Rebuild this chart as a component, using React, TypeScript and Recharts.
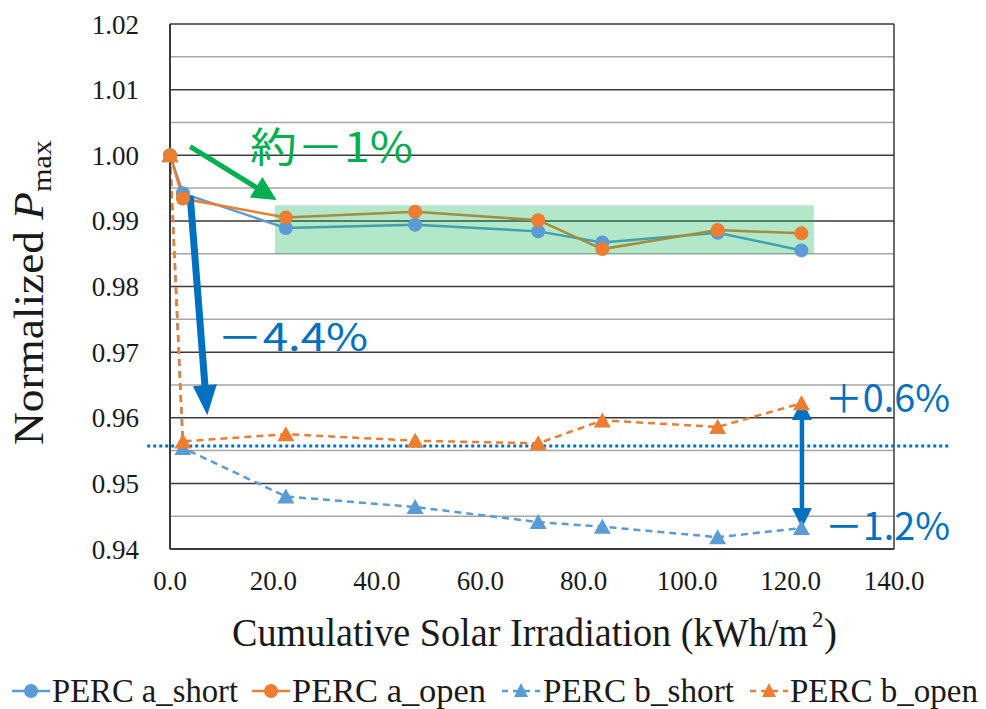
import React from 'react';
import {
  LineChart,
  Line,
  XAxis,
  YAxis,
  CartesianGrid,
  ReferenceLine,
  ReferenceArea,
} from 'recharts';

// cumulative irradiation (kWh/m2) at each measurement
const irradiation = [0, 2.5, 22.4, 47.4, 71.2, 83.6, 105.9, 122.1];

// normalized Pmax per module
const percAShort = [1.0, 0.9942, 0.9889, 0.9894, 0.9884, 0.9867, 0.9882, 0.9855];
const percAOpen = [1.0, 0.9934, 0.9905, 0.9914, 0.9901, 0.9857, 0.9886, 0.9881];
const percBShort = [1.0, 0.9554, 0.948, 0.9464, 0.9441, 0.9434, 0.9418, 0.9432];
const percBOpen = [1.0, 0.9564, 0.9575, 0.9565, 0.9561, 0.9596, 0.9586, 0.9622];

const seriesNames = ['PERC a_short', 'PERC a_open', 'PERC b_short', 'PERC b_open'];

const xTicks = [0, 20, 40, 60, 80, 100, 120, 140];
const yTicks = [0.94, 0.95, 0.96, 0.97, 0.98, 0.99, 1.0, 1.01, 1.02];
const yMinorTicks = [0.945, 0.955, 0.965, 0.975, 0.985, 0.995, 1.005, 1.015];

// annotation anchors, in data units
const stableBand = { x1: 20.3, x2: 124.5, y1: 0.985, y2: 0.9924 };
const bStartLevel = 0.9557;
const bStartSpan = [-4.4, 150.8];
const greenArrow = [{ x: 3.9, y: 1.0013 }, { x: 20.6, y: 0.9932 }];
const drop44Arrow = [{ x: 3.9, y: 0.9938 }, { x: 7.2, y: 0.9604 }];
const spreadArrow = [{ x: 122.2, y: 0.9627 }, { x: 122.2, y: 0.9432 }];

const data = irradiation.map((x, i) => ({
  x,
  aShort: percAShort[i],
  aOpen: percAOpen[i],
  bShort: percBShort[i],
  bOpen: percBOpen[i],
}));

const BLUE = '#5b9bd5';
const ORANGE = '#ed7d31';
const DARK_BLUE = '#0070c0';
const GREEN = '#00b050';
const SERIF = "'Times New Roman', 'Liberation Serif', Times, serif";
const SANS = "'Noto Sans CJK JP', 'Noto Sans', sans-serif";

function Triangle(props: any) {
  const { cx, cy, fill } = props;
  if (cx == null || cy == null) return null;
  return (
    <polygon
      key={`t-${cx}-${cy}`}
      points={`${cx},${cy - 8} ${cx + 8.5},${cy + 7} ${cx - 8.5},${cy + 7}`}
      fill={fill}
    />
  );
}

function arrowShape(color: string, width: number, headL: number, headW: number, both: boolean) {
  return (p: any) => {
    const x1 = Number(p.x1), y1 = Number(p.y1), x2 = Number(p.x2), y2 = Number(p.y2);
    const len = Math.hypot(x2 - x1, y2 - y1) || 1;
    const ux = (x2 - x1) / len, uy = (y2 - y1) / len;
    const nx = -uy, ny = ux;
    const head = (tx: number, ty: number, dx: number, dy: number) => {
      const bx = tx - dx * headL, by = ty - dy * headL;
      return `${tx},${ty} ${bx + nx * headW / 2},${by + ny * headW / 2} ${bx - nx * headW / 2},${by - ny * headW / 2}`;
    };
    const sx = both ? x1 + ux * headL * 0.9 : x1;
    const sy = both ? y1 + uy * headL * 0.9 : y1;
    return (
      <g>
        <line x1={sx} y1={sy} x2={x2 - ux * headL * 0.9} y2={y2 - uy * headL * 0.9} stroke={color} strokeWidth={width} />
        <polygon points={head(x2, y2, ux, uy)} fill={color} />
        {both && <polygon points={head(x1, y1, -ux, -uy)} fill={color} />}
      </g>
    );
  };
}

function LegendMarker({ x, color, dashed, circle }: { x: number; color: string; dashed: boolean; circle: boolean }) {
  const cy = 691;
  return (
    <g>
      <line x1={x} y1={cy} x2={x + 38} y2={cy} stroke={color} strokeWidth={2.5} strokeDasharray={dashed ? '6 5' : undefined} />
      {circle ? (
        <circle cx={x + 19} cy={cy} r={7} fill={color} />
      ) : (
        <polygon points={`${x + 19},${cy - 8} ${x + 26},${cy + 6} ${x + 12},${cy + 6}`} fill={color} />
      )}
    </g>
  );
}

export default function App() {
  const legendItems = [
    { marker: 12, text: 52, w: 186, color: BLUE, dashed: false, circle: true },
    { marker: 252, text: 292, w: 194, color: ORANGE, dashed: false, circle: true },
    { marker: 502, text: 543, w: 191, color: BLUE, dashed: true, circle: false },
    { marker: 750, text: 790, w: 188, color: ORANGE, dashed: true, circle: false },
  ];

  return (
    <div style={{ position: 'absolute', left: 0, top: 0, width: 986, height: 709, background: '#fff' }}>
      <LineChart width={986} height={709} data={data} margin={{ top: 24, right: 92, bottom: 0, left: 0 }}>
        <CartesianGrid vertical={false} stroke="#3a3a3a" strokeWidth={1.5} />
        {yMinorTicks.map((v) => (
          <ReferenceLine key={v} y={v} stroke="#a6a6a6" strokeWidth={1.5} />
        ))}
        <ReferenceLine x={140} stroke="#3a3a3a" strokeWidth={1.5} />
        <XAxis
          dataKey="x"
          type="number"
          domain={[0, 140]}
          ticks={xTicks}
          tickFormatter={(v: number) => v.toFixed(1)}
          height={160}
          tickSize={0}
          tickMargin={22}
          axisLine={{ stroke: '#3a3a3a', strokeWidth: 2 }}
          tick={{ fontFamily: SERIF, fontSize: 27, fill: '#1a1a1a' }}
        />
        <YAxis
          type="number"
          domain={[0.94, 1.02]}
          ticks={yTicks}
          tickFormatter={(v: number) => v.toFixed(2)}
          width={170}
          tickSize={0}
          tickMargin={31}
          axisLine={{ stroke: '#3a3a3a', strokeWidth: 2 }}
          tick={{ fontFamily: SERIF, fontSize: 27, fill: '#1a1a1a' }}
        />
        <Line
          dataKey="aShort"
          name={seriesNames[0]}
          stroke={BLUE}
          strokeWidth={2.5}
          dot={{ r: 7, fill: BLUE, stroke: BLUE, strokeWidth: 0 }}
          isAnimationActive={false}
        />
        <Line
          dataKey="aOpen"
          name={seriesNames[1]}
          stroke={ORANGE}
          strokeWidth={2.5}
          dot={{ r: 7, fill: ORANGE, stroke: ORANGE, strokeWidth: 0 }}
          isAnimationActive={false}
        />
        <Line
          dataKey="bShort"
          name={seriesNames[2]}
          stroke={BLUE}
          strokeWidth={2.5}
          strokeDasharray="7 5"
          dot={(p: any) => <Triangle {...p} fill={BLUE} />}
          isAnimationActive={false}
        />
        <Line
          dataKey="bOpen"
          name={seriesNames[3]}
          stroke={ORANGE}
          strokeWidth={2.5}
          strokeDasharray="7 5"
          dot={(p: any) => <Triangle {...p} fill={ORANGE} />}
          isAnimationActive={false}
        />
        <ReferenceArea
          x1={stableBand.x1}
          x2={stableBand.x2}
          y1={stableBand.y1}
          y2={stableBand.y2}
          fill="rgb(0,176,80)"
          fillOpacity={0.3}
          stroke="none"
          zIndex={450}
        />
        <ReferenceLine
          segment={[{ x: bStartSpan[0], y: bStartLevel }, { x: bStartSpan[1], y: bStartLevel }]}
          stroke={DARK_BLUE}
          strokeWidth={3}
          strokeDasharray="3 3"
          ifOverflow="visible"
          zIndex={460}
        />
        <ReferenceLine segment={greenArrow} ifOverflow="visible" shape={arrowShape(GREEN, 5, 24, 24, false)} zIndex={470} />
        <ReferenceLine segment={drop44Arrow} ifOverflow="visible" shape={arrowShape(DARK_BLUE, 7, 30, 24, false)} zIndex={470} />
        <ReferenceLine segment={spreadArrow} ifOverflow="visible" shape={arrowShape(DARK_BLUE, 4.5, 20, 20, true)} zIndex={470} />
      </LineChart>

      <svg width={986} height={709} style={{ position: 'absolute', left: 0, top: 0, pointerEvents: 'none' }}>
        <text x={250} y={162} fontFamily={SANS} fontSize={41} fill={GREEN} textLength={163} lengthAdjust="spacingAndGlyphs">
          約－1%
        </text>
        <text x={217} y={351} fontFamily={SANS} fontSize={38} fill={DARK_BLUE} textLength={151} lengthAdjust="spacingAndGlyphs">
          －4.4%
        </text>
        <text x={825} y={412} fontFamily={SANS} fontSize={38} fill={DARK_BLUE} textLength={125} lengthAdjust="spacingAndGlyphs">
          ＋0.6%
        </text>
        <text x={825} y={540} fontFamily={SANS} fontSize={38} fill={DARK_BLUE} textLength={125} lengthAdjust="spacingAndGlyphs">
          －1.2%
        </text>

        {/* x-axis title, superscript drawn as its own text */}
        <text x={232} y={646} fontFamily={SERIF} fontSize={39} fill="#1a1a1a" textLength={576} lengthAdjust="spacingAndGlyphs">
          Cumulative Solar Irradiation (kWh/m
        </text>
        <text x={812} y={627} fontFamily={SERIF} fontSize={23} fill="#1a1a1a">
          2
        </text>
        <text x={824} y={646} fontFamily={SERIF} fontSize={39} fill="#1a1a1a">
          )
        </text>

        <text
          x={43}
          y={445}
          transform="rotate(-90 43 445)"
          fontFamily={SERIF}
          fontSize={42}
          fill="#1a1a1a"
          textLength={305}
          lengthAdjust="spacingAndGlyphs"
        >
          Normalized <tspan fontStyle="italic">P</tspan>
          <tspan fontSize={28} baselineShift="-8">max</tspan>
        </text>

        {legendItems.map((it, i) => (
          <g key={seriesNames[i]}>
            <LegendMarker x={it.marker} color={it.color} dashed={it.dashed} circle={it.circle} />
            <text x={it.text} y={702} fontFamily={SERIF} fontSize={33} fill="#1a1a1a" textLength={it.w} lengthAdjust="spacingAndGlyphs">
              {seriesNames[i]}
            </text>
          </g>
        ))}
      </svg>
    </div>
  );
}
